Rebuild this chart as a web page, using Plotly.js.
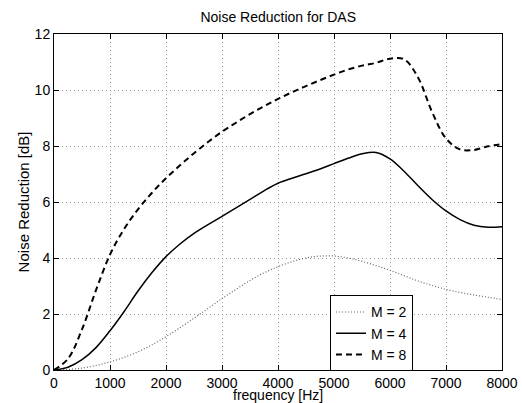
<!DOCTYPE html>
<html>
<head>
<meta charset="utf-8">
<script src="https://cdn.plot.ly/plotly-3.0.1.min.js"></script>
<style>html,body{margin:0;padding:0;background:#fff;}#chart{width:522px;height:403px;}</style>
</head>
<body>
<div id="chart"></div>
<script>
const freq = [0,250,500,750,1000,1250,1500,1750,2000,2250,2500,2750,3000,3250,3500,3750,4000,4250,4500,4750,5000,5250,5500,5750,6000,6250,6500,6750,7000,7250,7500,7750,8000];
const nrM2 = [0,0.02,0.07,0.16,0.29,0.45,0.65,0.90,1.19,1.51,1.85,2.20,2.55,2.88,3.20,3.47,3.69,3.87,4.00,4.07,4.07,4.00,3.88,3.73,3.56,3.37,3.18,3.02,2.88,2.77,2.68,2.60,2.52];
const nrM4 = [0,0.10,0.37,0.80,1.40,2.08,2.82,3.48,4.05,4.50,4.88,5.19,5.49,5.79,6.09,6.40,6.67,6.85,7.01,7.18,7.37,7.56,7.72,7.77,7.54,7.10,6.58,6.09,5.68,5.37,5.17,5.10,5.12];
const nrM8 = [0,0.40,1.45,2.85,4.12,5.03,5.74,6.33,6.85,7.31,7.74,8.14,8.51,8.83,9.14,9.42,9.68,9.92,10.14,10.35,10.55,10.73,10.87,10.97,11.12,11.10,10.45,9.22,8.27,7.88,7.86,7.99,8.07];
const seriesNames = ['M = 2','M = 4','M = 8'];
const xTicks = [0,1000,2000,3000,4000,5000,6000,7000,8000];
const yTicks = [0,2,4,6,8,10,12];
const xTitle = 'frequency [Hz]';
const yTitle = 'Noise Reduction [dB]';
const chartTitle = 'Noise Reduction for DAS';

const FONT = 'Liberation Sans, Arial, Helvetica, sans-serif';

const traces = [
  {x: freq, y: nrM2, name: seriesNames[0], mode: 'lines',
   line: {color: '#666666', width: 1.2, dash: '1px,2px', shape: 'spline', smoothing: 1}},
  {x: freq, y: nrM4, name: seriesNames[1], mode: 'lines',
   line: {color: '#000000', width: 1.5, shape: 'spline', smoothing: 1}},
  {x: freq, y: nrM8, name: seriesNames[2], mode: 'lines',
   line: {color: '#000000', width: 2, dash: '6px,4px', shape: 'spline', smoothing: 1}}
];

const axisCommon = {
  showline: true, linecolor: '#000', linewidth: 1, mirror: 'ticks',
  ticks: 'inside', ticklen: 5, tickcolor: '#000', tickwidth: 1,
  showgrid: true, gridcolor: '#999999', gridwidth: 1, griddash: '1px,3px',
  zeroline: false, tickfont: {family: FONT, size: 14, color: '#000'}
};

const layout = {
  width: 522, height: 403,
  paper_bgcolor: '#fff', plot_bgcolor: '#fff',
  margin: {l: 54, r: 20, t: 34, b: 33},
  font: {family: FONT, size: 14, color: '#000'},
  title: {text: chartTitle, font: {family: FONT, size: 14, color: '#000'},
          x: 0.533, xanchor: 'center', y: 0.958, yref: 'container', yanchor: 'middle'},
  xaxis: Object.assign({}, axisCommon, {
    range: [0, 8000], tickvals: xTicks, ticktext: xTicks.map(String)
  }),
  yaxis: Object.assign({}, axisCommon, {
    range: [0, 12], tickvals: yTicks, ticktext: yTicks.map(String)
  }),
  annotations: [
    {text: xTitle, xref: 'paper', yref: 'paper', x: 0.5, y: -0.049,
     xanchor: 'center', yanchor: 'top', showarrow: false,
     font: {family: FONT, size: 14, color: '#000'}, borderpad: 0},
    {text: yTitle, xref: 'paper', yref: 'paper', x: -0.0676, y: 0.501,
     xanchor: 'center', yanchor: 'middle', textangle: -90, showarrow: false,
     font: {family: FONT, size: 15, color: '#000'}, borderpad: 0}
  ],
  showlegend: true,
  legend: {x: 0.616, y: 0.222, xanchor: 'left', yanchor: 'top',
           bgcolor: '#fff', bordercolor: '#000', borderwidth: 1,
           font: {family: FONT, size: 14, color: '#000'}, itemwidth: 30, tracegroupgap: 0},
  hovermode: false
};

Plotly.newPlot('chart', traces, layout, {staticPlot: true, displayModeBar: false});
</script>
</body>
</html>
